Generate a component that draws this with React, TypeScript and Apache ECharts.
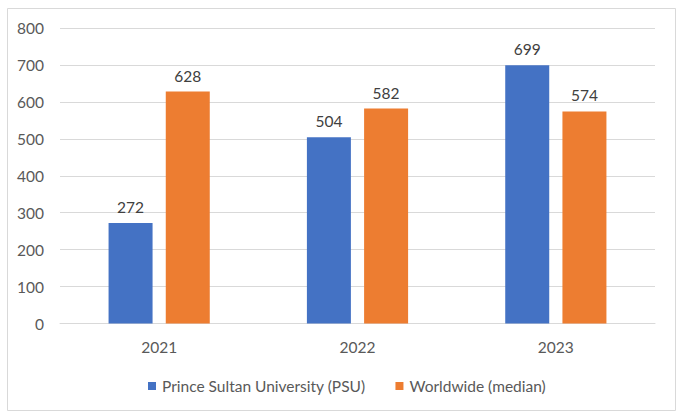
import React, { useEffect, useRef } from "react";
import * as echarts from "echarts";

const categories = ["2021", "2022", "2023"];
const psuValues = [272, 504, 699];
const worldValues = [628, 582, 574];
const seriesNames = ["Prince Sultan University (PSU)", "Worldwide (median)"];

const FONT = "Lato, 'Open Sans', sans-serif";
const FS = 15.5;

export default function App() {
  const ref = useRef<HTMLDivElement>(null);
  useEffect(() => {
    if (!ref.current) return;
    const chart = echarts.init(ref.current, null, { renderer: "svg" });
    chart.setOption({
      animation: false,
      backgroundColor: "#ffffff",
      textStyle: { fontFamily: FONT },
      graphic: [
        {
          type: "rect",
          z: -10,
          silent: true,
          shape: { x: 7.5, y: 8.5, width: 668, height: 402 },
          style: { fill: "#ffffff", stroke: "#D9D9D9", lineWidth: 1 },
        },
      ],
      grid: { left: 60, right: 30, top: 28, bottom: 95.5 },
      legend: {
        left: 143,
        top: 373,
        itemWidth: 8,
        itemHeight: 8,
        itemGap: 30,
        icon: "rect",
        textStyle: { fontFamily: FONT, fontSize: FS, color: "#595959", padding: [0, 0, 0, 1] },
        data: seriesNames,
      },
      xAxis: {
        type: "category",
        data: categories,
        axisLine: { lineStyle: { color: "#D9D9D9" } },
        axisTick: { show: false },
        axisLabel: { fontFamily: FONT, fontSize: FS, color: "#595959", margin: 15 },
      },
      yAxis: {
        type: "value",
        min: 0,
        max: 800,
        interval: 100,
        axisLine: { show: false },
        axisTick: { show: false },
        splitLine: { lineStyle: { color: "#D9D9D9" } },
        axisLabel: { fontFamily: FONT, fontSize: FS, color: "#595959", margin: 16 },
      },
      series: [
        {
          name: seriesNames[0],
          type: "bar",
          data: psuValues,
          barWidth: 44,
          barGap: "30%",
          itemStyle: { color: "#4472C4" },
          label: { show: true, position: "top", distance: 8, fontFamily: FONT, fontSize: FS, color: "#404040" },
        },
        {
          name: seriesNames[1],
          type: "bar",
          data: worldValues,
          barWidth: 44,
          barGap: "30%",
          itemStyle: { color: "#ED7D31" },
          label: { show: true, position: "top", distance: 8, fontFamily: FONT, fontSize: FS, color: "#404040" },
        },
      ],
    });
    return () => chart.dispose();
  }, []);
  return (
    <div
      ref={ref}
      style={{ position: "fixed", left: 0, top: 0, width: 685, height: 419 }}
    />
  );
}
